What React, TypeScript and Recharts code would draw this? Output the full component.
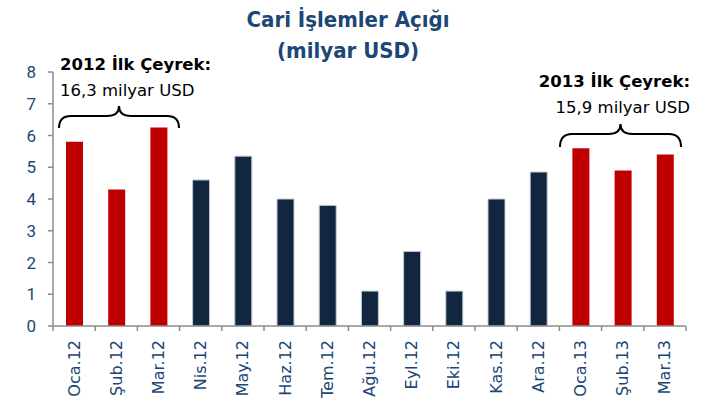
import { BarChart, Bar, XAxis, YAxis, Cell } from 'recharts';

const months = [
  'Oca.12', 'Şub.12', 'Mar.12', 'Nis.12', 'May.12', 'Haz.12', 'Tem.12', 'Ağu.12',
  'Eyl.12', 'Eki.12', 'Kas.12', 'Ara.12', 'Oca.13', 'Şub.13', 'Mar.13',
];
const deficit = [5.8, 4.3, 6.25, 4.6, 5.35, 4.0, 3.8, 1.1, 2.35, 1.1, 4.0, 4.85, 5.6, 4.9, 5.4];
const firstQuarter = [true, true, true, false, false, false, false, false, false, false, false, false, true, true, true];
const yTicks = [0, 1, 2, 3, 4, 5, 6, 7, 8];

const data = months.map((m, i) => ({ month: m, value: deficit[i], q1: firstQuarter[i] }));

const RED = '#c00000';
const NAVY = '#12263f';
const BLUE_TEXT = '#1b4676';
const AXIS = '#8c8c8c';
const FONT = 'Roboto, sans-serif';
const NOTE_FONT = '"DejaVu Sans", sans-serif';

const MonthTick = (props: any) => {
  const { x, y, payload, index } = props;
  const half = payload?.offset ?? 21.1;
  const axisY = y - 7;
  return (
    <g>
      <line x1={x - half} x2={x - half} y1={axisY} y2={axisY + 5} stroke={AXIS} strokeWidth={1.5} />
      {index === months.length - 1 && (
        <line x1={x + half} x2={x + half} y1={axisY} y2={axisY + 5} stroke={AXIS} strokeWidth={1.5} />
      )}
      <text
        x={x}
        y={axisY + 14}
        transform={`rotate(-90, ${x}, ${axisY + 14})`}
        textAnchor="end"
        dy="0.35em"
        fill={BLUE_TEXT}
        fontSize={16}
        fontFamily="DejaVu Sans, sans-serif"
      >
        {payload.value}
      </text>
    </g>
  );
};

const brace = (x1: number, x2: number, yEnd: number, yLine: number, yPeak: number) => {
  const mid = (x1 + x2) / 2;
  const r = 6;
  return `M${x1},${yEnd} Q${x1},${yLine} ${x1 + r * 2},${yLine} L${mid - r * 2},${yLine} Q${mid},${yLine} ${mid},${yPeak}
    Q${mid},${yLine} ${mid + r * 2},${yLine} L${x2 - r * 2},${yLine} Q${x2},${yLine} ${x2},${yEnd}`;
};

export default function App() {
  return (
    <div style={{ position: 'absolute', left: 0, top: 0, width: 704, height: 404, background: '#fff' }}>
      <BarChart
        width={704}
        height={404}
        data={data}
        margin={{ top: 72, right: 18, left: 0, bottom: 0 }}
        barSize={17}
      >
        <XAxis
          dataKey="month"
          interval={0}
          height={78}
          tickSize={5}
          tickMargin={2}
          tickLine={false}
          axisLine={{ stroke: AXIS, strokeWidth: 1.5 }}
          tick={<MonthTick />}
        />
        <YAxis
          width={53}
          domain={[0, 8]}
          ticks={yTicks}
          interval={0}
          tickSize={5}
          tickMargin={12}
          axisLine={{ stroke: AXIS, strokeWidth: 1.5 }}
          tickLine={{ stroke: AXIS, strokeWidth: 1.5 }}
          tick={{ fill: BLUE_TEXT, fontSize: 17, fontFamily: FONT }}
        />
        <Bar dataKey="value" isAnimationActive={false}>
          {data.map((d, i) => (
            <Cell
              key={`c-${i}`}
              fill={d.q1 ? RED : NAVY}
              stroke={d.q1 ? 'none' : '#c3cbd5'}
              strokeWidth={d.q1 ? 0 : 1}
            />
          ))}
        </Bar>
      </BarChart>
      <svg
        width={704}
        height={404}
        style={{ position: 'absolute', left: 0, top: 0, pointerEvents: 'none' }}
      >
        <text x={348} y={27} textAnchor="middle" fill={BLUE_TEXT} fontSize={22} fontWeight={700} fontFamily='"DejaVu Sans Condensed", "DejaVu Sans", sans-serif' fontStretch="condensed">
          Cari İşlemler Açığı
        </text>
        <text x={348} y={58} textAnchor="middle" fill={BLUE_TEXT} fontSize={22} fontWeight={700} fontFamily='"DejaVu Sans Condensed", "DejaVu Sans", sans-serif' fontStretch="condensed">
          (milyar USD)
        </text>
        <text x={60} y={70} fill="#000" fontSize={16.5} fontWeight={700} fontFamily={NOTE_FONT}>
          2012 İlk Çeyrek:
        </text>
        <text x={60} y={96} fill="#000" fontSize={16.5} fontFamily={NOTE_FONT}>
          16,3 milyar USD
        </text>
        <text x={690} y={87} textAnchor="end" fill="#000" fontSize={16.5} fontWeight={700} fontFamily={NOTE_FONT}>
          2013 İlk Çeyrek:
        </text>
        <text x={690} y={113} textAnchor="end" fill="#000" fontSize={16.5} fontFamily={NOTE_FONT}>
          15,9 milyar USD
        </text>
        <path d={brace(59, 179, 128, 116, 106)} fill="none" stroke="#000" strokeWidth={2} />
        <path d={brace(560, 681, 147, 134, 124)} fill="none" stroke="#000" strokeWidth={2} />
      </svg>
    </div>
  );
}
